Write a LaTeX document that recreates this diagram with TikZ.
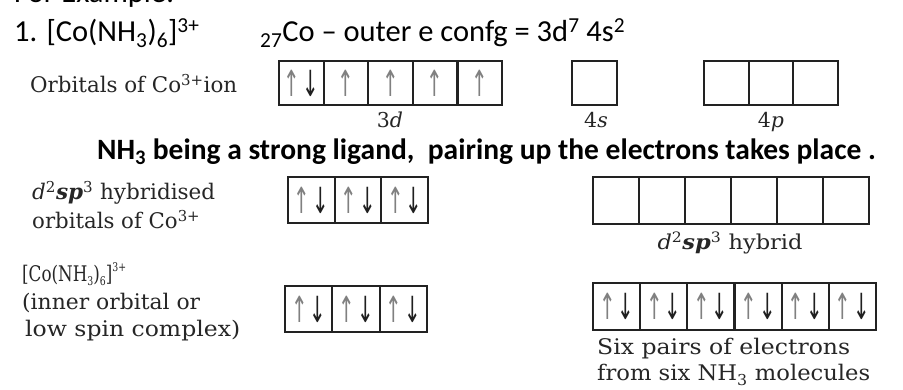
\documentclass[tikz,border=0pt]{standalone}
\usepackage{fontspec}
\usepackage{graphicx}
\setmainfont{DejaVu Serif}
\newfontfamily\calibri{Carlito}
\newfontfamily\arrowfont{DejaVu Sans}
\usepackage{xcolor}
\definecolor{boxline}{HTML}{222222}
% slim orbital arrows
\newcommand\orbup{\scalebox{0.55}[1]{\textcolor{black!50}{↑}}}
\newcommand\orbdn{\scalebox{0.55}[1]{\textcolor{black!88}{↓}}}
\newcommand\orbpair{\orbup\kern2pt\orbdn}
\newcommand\orbone{\orbup}
\newcommand\dsp{\textit{d}\textsuperscript{2}\textbf{\textit{sp}}\textsuperscript{3}}
% small tight sub- and superscripts for the formula label
\newcommand\lsub[1]{\raisebox{-0.35ex}{\fontsize{12}{12}\selectfont #1}}
\newcommand\lsup[1]{\raisebox{0.95ex}{\fontsize{12}{12}\selectfont #1}}
% set a line to a given width (in pt) by horizontal scaling
\newlength\fitlen
\newcommand\fitto[2]{\settowidth\fitlen{#2}\pgfmathsetmacro\fitratio{#1/\fitlen}\scalebox{\fitratio}[1]{#2}}
\begin{document}
\begin{tikzpicture}[x=1pt,y=-1pt,
  orb/.style={draw=boxline, line width=2.2pt, inner sep=0pt, outer sep=0pt,
    font=\arrowfont\fontsize{36}{36}\selectfont},
  toptext/.style={anchor=base west, inner sep=0pt, font=\calibri\fontsize{30.5}{37}\selectfont},
  boldtext/.style={anchor=base west, inner sep=0pt, font=\calibri\bfseries\fontsize{29.5}{35}\selectfont},
  lbl/.style={anchor=base west, inner sep=0pt, text=black!85, font=\fontsize{21.5}{25}\selectfont},
  sublbl/.style={anchor=base, inner sep=0pt, text=black!85, font=\fontsize{20.5}{25}\selectfont}]
\useasboundingbox (0,0) rectangle (903,390);

% heading lines
\node[toptext] (forex) at (14,3) {For Example:};
\node[toptext] (cplx) at (14,42) {1. [Co(NH\textsubscript{3})\textsubscript{6}]\textsuperscript{3+}};
\node[toptext] (config) at (260,42) {\textsubscript{27}Co – outer e confg = 3d\textsuperscript{7} 4s\textsuperscript{2}};

% row 1: orbitals of the free Co(3+) ion
\node[lbl] (row1) at (30,93) {\fitto{207}{Orbitals of Co\textsuperscript{3+}ion}};
\foreach \n/\x/\t in {1/301.3/\orbpair, 2/345.9/\orbone, 3/390.5/\orbone, 4/435.1/\orbone, 5/479.7/\orbone}
  \node[orb, minimum width=44.6pt, minimum height=44pt] (d\n) at (\x,83) {\t};
\node[orb, minimum width=45pt, minimum height=44pt] (s1) at (594.5,83) {};
\foreach \n/\x in {1/726.3, 2/771.0, 3/815.7}
  \node[orb, minimum width=44.67pt, minimum height=44pt] (p\n) at (\x,83) {};
\node[sublbl] (lab3d) at (390,128) {3\textit{d}};
\node[sublbl] (lab4s) at (596,128) {4\textit{s}};
\node[sublbl] (lab4p) at (771,128) {4\textit{p}};

% explanatory line
\node[boldtext] (pairing) at (97,160) {NH\textsubscript{3} being a strong ligand,\ \ pairing up the electrons takes place .};

% row 2: d2sp3 hybridised orbitals
\node[lbl] (row2a) at (32,200) {\fitto{183}{\dsp\ hybridised}};
\node[lbl] (row2b) at (32,229) {\fitto{168}{orbitals of Co\textsuperscript{3+}}};
\foreach \n/\x in {1/311.3, 2/358.0, 3/404.7}
  \node[orb, minimum width=46.67pt, minimum height=46pt] (h\n) at (\x,200) {\orbpair};
\foreach \n/\x in {1/616, 2/662, 3/708, 4/754, 5/800, 6/846}
  \node[orb, minimum width=46pt, minimum height=47pt] (e\n) at (\x,200.5) {};
\node[sublbl] (labhyb) at (730,250) {\fitto{145}{\dsp\ hybrid}};

% row 3: the low spin complex
\node[lbl] (row3a) at (22,282) {\fitto{104}{[Co(NH\lsub{3})\lsub{6}]\lsup{3+}}};
\node[lbl] (row3b) at (22,310) {\fitto{178}{(inner orbital or}};
\node[lbl] (row3c) at (25,337) {\fitto{215}{low spin complex)}};
\foreach \n/\x in {1/308.7, 2/356.0, 3/403.3}
  \node[orb, minimum width=47.33pt, minimum height=46pt] (c\n) at (\x,309) {\orbpair};
\foreach \n/\x in {1/616.6, 2/663.8, 3/710.9, 4/758.1, 5/805.3, 6/852.4}
  \node[orb, minimum width=47.17pt, minimum height=47pt] (l\n) at (\x,306.5) {\orbpair};
\node[lbl] (six1) at (597,355) {\fitto{253}{Six pairs of electrons}};
\node[lbl] (six2) at (597,381) {\fitto{273}{from six NH\textsubscript{3} molecules}};
\end{tikzpicture}
\end{document}
